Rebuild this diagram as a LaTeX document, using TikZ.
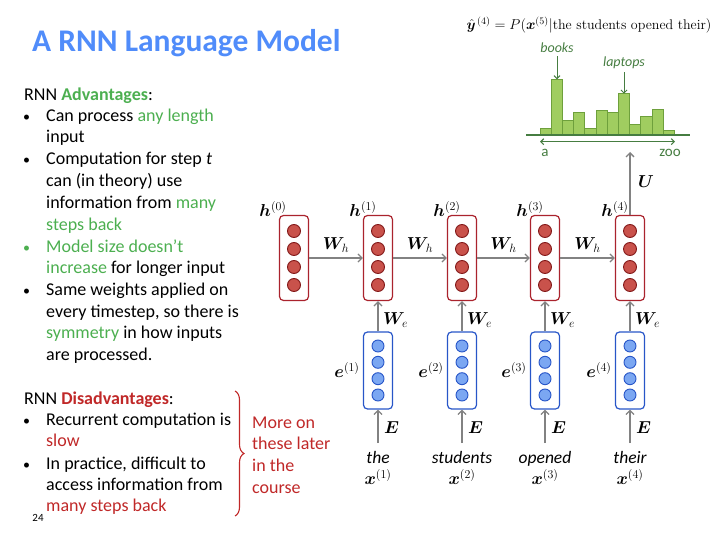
\documentclass[tikz,border=0pt]{standalone}
\usepackage{amsmath,bm}
\usepackage{fontspec}
\newfontfamily\carl{Carlito}
\usetikzlibrary{arrows.meta,decorations.pathreplacing}
\definecolor{hred}{RGB}{170,35,45}
\definecolor{hdotf}{RGB}{201,82,75}
\definecolor{hdotb}{RGB}{130,25,25}
\definecolor{eblue}{RGB}{40,86,200}
\definecolor{edotf}{RGB}{123,167,242}
\definecolor{arrgray}{RGB}{130,130,130}
\definecolor{tgreen}{RGB}{76,175,80}
\definecolor{tred}{RGB}{192,40,40}
\definecolor{tblue}{RGB}{80,140,250}
\definecolor{barf}{RGB}{160,205,96}
\definecolor{barb}{RGB}{110,160,60}
\definecolor{dgreen}{RGB}{70,125,65}
\newcommand{\smbul}{{\fontsize{14}{14}\selectfont\textbullet}}
\begin{document}
\begin{tikzpicture}[x=1pt,y=-1pt,
  hbox/.style={draw=hred, line width=1.2pt, rounded corners=4pt, minimum width=29pt, minimum height=85pt, inner sep=0pt},
  hdot/.style={circle, draw=hdotb, fill=hdotf, line width=0.9pt, minimum size=13pt, inner sep=0pt},
  ebox/.style={draw=eblue, line width=1.2pt, rounded corners=4pt, minimum width=29pt, minimum height=77pt, inner sep=0pt},
  edot/.style={circle, draw=eblue, fill=edotf, line width=0.9pt, minimum size=12pt, inner sep=0pt},
  conn/.style={draw=arrgray, line width=1.3pt, -{Straight Barb[length=4pt,width=8pt]}},
  mlab/.style={font=\fontsize{17}{17}\selectfont, inner sep=0pt},
  txt/.style={font=\carl\fontsize{18}{21}\selectfont, anchor=base west, inner sep=0pt},
  bul/.style={font=\carl\fontsize{18}{21}\selectfont, anchor=base west, inner sep=0pt},
  redtxt/.style={txt, text=tred},
  word/.style={font=\carl\itshape\fontsize{17.5}{19}\selectfont, inner sep=0pt, anchor=base},
  bar/.style={draw=barb, fill=barf, line width=0.9pt},
  glab/.style={font=\carl\itshape\fontsize{14}{14}\selectfont, text=dgreen, inner sep=0pt},
  garr/.style={draw=dgreen, line width=1pt, -{Straight Barb[length=3pt,width=6pt]}}
]
\useasboundingbox (0,0) rectangle (720,540);
% title
\node[anchor=base west, inner sep=0pt, font=\carl\bfseries\fontsize{31.5}{31.5}\selectfont, text=tblue] (title) at (32,52) {A RNN Language Model};
% advantages
\node[txt] (l1) at (24,101) {RNN \textcolor{tgreen}{\bfseries Advantages}:};
\node[bul] (b2) at (23,122) {\smbul};
\node[txt] (l2) at (46,122) {Can process \textcolor{tgreen}{any length}};
\node[txt] (l3) at (46,143) {input};
\node[bul] (b4) at (23,165) {\smbul};
\node[txt] (l4) at (46,165) {Computation for step \textit{t}};
\node[txt] (l5) at (46,187) {can (in theory) use};
\node[txt] (l6) at (46,208) {information from \textcolor{tgreen}{many}};
\node[txt, text=tgreen] (l7) at (46,230) {steps back};
\node[bul, text=tgreen] (b8) at (23,252) {\smbul};
\node[txt] (l8) at (46,252) {\textcolor{tgreen}{Model size doesn’t}};
\node[txt] (l9) at (46,273) {\textcolor{tgreen}{increase} for longer input};
\node[bul] (b10) at (23,295) {\smbul};
\node[txt] (l10) at (46,295) {Same weights applied on};
\node[txt] (l11) at (46,317) {every timestep, so there is};
\node[txt] (l12) at (46,338) {\textcolor{tgreen}{symmetry} in how inputs};
\node[txt] (l13) at (46,360) {are processed.};
% disadvantages
\node[txt] (d1) at (24,404) {RNN \textcolor{tred}{\bfseries Disadvantages}:};
\node[bul] (db2) at (23,425) {\smbul};
\node[txt] (d2) at (46,425) {Recurrent computation is};
\node[redtxt] (d3) at (46,446) {slow};
\node[bul] (db4) at (23,469) {\smbul};
\node[txt] (d4) at (46,469) {In practice, difficult to};
\node[txt] (d5) at (46,490) {access information from};
\node[redtxt] (d6) at (46,511) {many steps back};
\node[inner sep=0pt, font=\carl\fontsize{11}{11}\selectfont] (pg) at (38,518) {24};
% brace
\coordinate (bt) at (235,391);
\coordinate (bb) at (235,516);
\draw[tred, line width=1.1pt, decorate, decoration={brace, amplitude=9pt}] (bt) -- (bb);
\node[redtxt] (m1) at (252,428) {More on};
\node[redtxt] (m2) at (252,449) {these later};
\node[redtxt] (m3) at (252,471) {in the};
\node[redtxt] (m4) at (252,493) {course};
% equation
\node[inner sep=0pt, font=\fontsize{14}{14}\selectfont] (eq) at (589,25) {${\hat{\bm{y}}}^{\,(4)} = P(\bm{x}^{(5)}|\text{the students opened their})$};
% histogram
\foreach \k/\t in {0/128.3,1/79.3,2/120.7,3/112.3,4/128.3,5/110.3,6/112.3,7/93.7,8/124.3,9/116.3,10/109.3,11/130.7}{
  \draw[bar] ({540+11.2*\k},135) rectangle ({540+11.2*(\k+1)},\t);
}
\coordinate (hbl) at (526,135);
\coordinate (hbr) at (690,135);
\draw[dgreen, line width=1.3pt] (hbl) -- (hbr);
\coordinate (al) at (540,141.7);
\coordinate (ar) at (675,141.7);
\draw[dgreen, line width=1.1pt, {Straight Barb[length=3pt,width=6pt]}-{Straight Barb[length=3pt,width=6pt]}] (al) -- (ar);
\node[font=\carl\fontsize{15}{15}\selectfont, text=dgreen, inner sep=0pt] (la) at (545,153) {a};
\node[font=\carl\fontsize{15}{15}\selectfont, text=dgreen, inner sep=0pt] (lz) at (670,153) {zoo};
\node[glab] (books) at (557,48) {books};
\coordinate (btop) at (557,79.3);
\draw[garr] (books.south)++(0,3) -- (btop);
\node[glab] (laptops) at (624,63) {laptops};
\coordinate (ltop) at (624,93.7);
\draw[garr] (laptops.south)++(0,3) -- (ltop);
% hidden states
\foreach \i/\x in {0/294,1/378,2/462,3/545,4/630}{
  \node[hbox] (h\i) at (\x,258) {};
  \foreach \d in {-27,-9,9,27}{ \node[hdot] at (\x,258+\d) {}; }
}
\node[mlab] (lh0) at (273,209) {$\bm{h}^{(0)}$};
\foreach \i/\x in {1/378,2/462,3/545,4/630}{
  \node[mlab] (lh\i) at (\x-15,209) {$\bm{h}^{(\i)}$};
}
\foreach \i/\j in {0/1,1/2,2/3,3/4}{
  \draw[conn] (h\i.east) -- (h\j.west) node[midway, above=5pt, mlab] (wh\i) {$\bm{W}_h$};
}
% embeddings and words
\foreach \i/\x/\w in {1/378/the,2/462/students,3/545/opened,4/630/their}{
  \node[ebox] (e\i) at (\x,370.5) {};
  \foreach \d in {-24.5,-8.2,8.2,24.5}{ \node[edot] at (\x,370.5+\d) {}; }
  \node[mlab] (le\i) at (\x-31,370) {$\bm{e}^{(\i)}$};
  \draw[conn] (e\i.north) -- (h\i.south);
  \node[mlab, anchor=west] (we\i) at (\x+5,320) {$\bm{W}_e$};
  \coordinate (ein\i) at (\x,443);
  \draw[conn] (ein\i) -- (e\i.south);
  \node[mlab, anchor=west] (lE\i) at (\x+6,428) {$\bm{E}$};
  \node[word] (w\i) at (\x,463) {\w};
  \node[mlab] (x\i) at (\x,477) {$\bm{x}^{(\i)}$};
}
% output
\coordinate (yout) at (630,152);
\draw[conn] (h4.north) -- (yout);
\node[mlab, anchor=west] (U) at (638,182) {$\bm{U}$};
\end{tikzpicture}
\end{document}
